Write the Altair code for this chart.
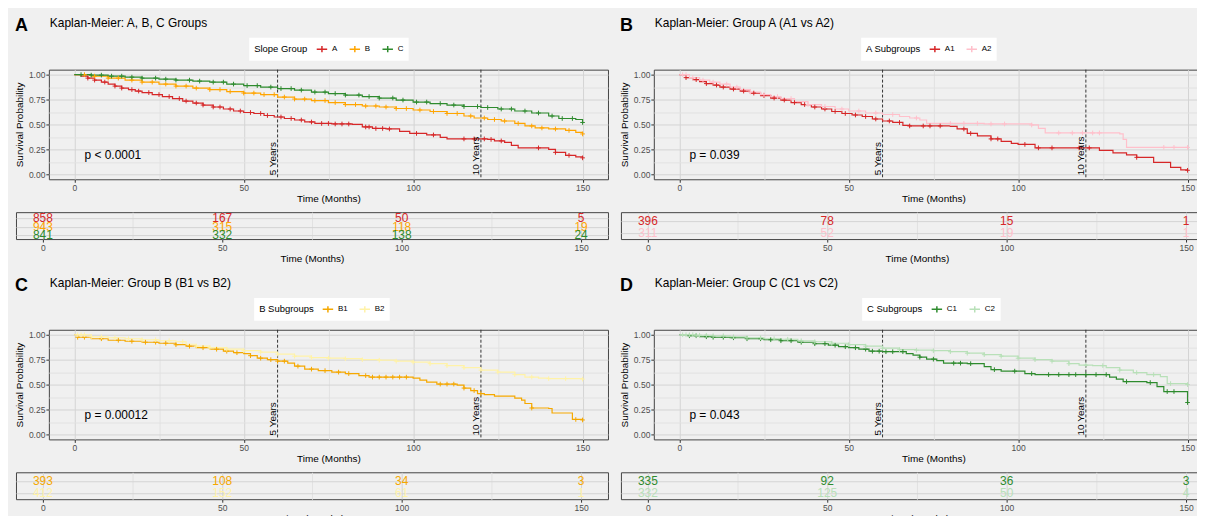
import altair as alt
import numpy as np
import pandas as pd

FONT = "Liberation Sans"
BG = "#f0f0f0"

risk_times = [0, 50, 100, 150]
marker_times = [60, 120]
marker_labels = ["5 Years", "10 Years"]

# ---------------- Panel A : A, B, C ----------------
pA_groups = ["A", "B", "C"]
pA_colors = ["#d62728", "#ffa500", "#2e8b2e"]
pA_A_t = [0, 2, 4, 6, 8, 10, 12, 14, 16, 18, 20, 23, 26, 29, 32, 35, 38, 41, 44, 47, 50, 53, 56, 59, 62, 65, 68, 71, 76, 82, 85, 88, 92, 96, 99, 104, 108, 110, 122, 124, 127, 129, 131, 140, 142, 145, 148, 150]
pA_A_s = [1.0, 0.985, 0.965, 0.945, 0.925, 0.905, 0.885, 0.865, 0.85, 0.835, 0.82, 0.80, 0.78, 0.76, 0.735, 0.715, 0.695, 0.675, 0.655, 0.635, 0.62, 0.61, 0.59, 0.575, 0.56, 0.545, 0.525, 0.51, 0.505, 0.50, 0.475, 0.46, 0.455, 0.43, 0.41, 0.395, 0.37, 0.355, 0.35, 0.335, 0.32, 0.29, 0.265, 0.25, 0.22, 0.19, 0.175, 0.165]
pA_A_c = [4, 6, 9, 12, 14, 17, 19, 22, 25, 28, 31, 33, 36, 38, 41, 43, 46, 49, 52, 55, 57, 61, 64, 67, 70, 73, 75, 77, 79, 81, 86, 87, 89, 91, 93, 101, 106, 115, 118, 121, 123, 126, 137, 142, 146, 150]
pA_B_t = [0, 5, 10, 15, 20, 25, 30, 35, 40, 45, 50, 55, 60, 65, 70, 75, 80, 85, 90, 95, 100, 105, 110, 115, 118, 122, 126, 130, 133, 136, 140, 145, 148, 150]
pA_B_s = [1.0, 0.985, 0.965, 0.945, 0.925, 0.905, 0.885, 0.865, 0.85, 0.83, 0.815, 0.80, 0.775, 0.755, 0.74, 0.72, 0.70, 0.685, 0.675, 0.66, 0.645, 0.63, 0.61, 0.585, 0.565, 0.55, 0.535, 0.51, 0.485, 0.465, 0.455, 0.44, 0.42, 0.405]
pA_B_c = [3, 6, 10, 13, 17, 20, 23, 27, 30, 33, 36, 40, 43, 46, 50, 53, 56, 59, 62, 65, 68, 71, 74, 77, 80, 83, 86, 89, 92, 95, 98, 102, 106, 110, 113, 117, 121, 124, 127, 131, 135, 138, 142, 146, 150]
pA_C_t = [0, 5, 10, 15, 20, 25, 30, 35, 40, 45, 50, 55, 60, 65, 70, 75, 80, 85, 90, 95, 100, 105, 110, 115, 120, 125, 130, 135, 140, 143, 148, 150]
pA_C_s = [1.0, 0.995, 0.985, 0.975, 0.965, 0.955, 0.945, 0.935, 0.925, 0.905, 0.89, 0.875, 0.86, 0.845, 0.825, 0.81, 0.795, 0.78, 0.765, 0.745, 0.725, 0.71, 0.695, 0.68, 0.67, 0.655, 0.635, 0.615, 0.585, 0.56, 0.55, 0.52]
pA_C_c = [2, 5, 8, 11, 14, 17, 20, 24, 27, 30, 34, 37, 41, 44, 47, 51, 54, 58, 61, 64, 67, 71, 74, 77, 80, 84, 87, 90, 94, 97, 101, 104, 108, 112, 115, 119, 122, 126, 129, 133, 137, 141, 144, 147, 150]
pA_risk = [[858, 167, 50, 5], [943, 315, 118, 19], [841, 332, 138, 24]]

# ---------------- Panel B : A1 vs A2 ----------------
pB_groups = ["A1", "A2"]
pB_colors = ["#d62728", "#ffc0cb"]
pB_1_t = [0, 2, 4, 6, 8, 10, 12, 15, 18, 21, 24, 27, 30, 33, 36, 39, 42, 45, 48, 51, 54, 57, 60, 63, 66, 68, 80, 82, 85, 88, 92, 95, 98, 100, 105, 122, 124, 128, 132, 135, 140, 145, 148, 150]
pB_1_s = [1.0, 0.97, 0.95, 0.93, 0.91, 0.895, 0.875, 0.855, 0.835, 0.815, 0.79, 0.765, 0.745, 0.72, 0.70, 0.675, 0.655, 0.63, 0.61, 0.595, 0.58, 0.555, 0.535, 0.52, 0.49, 0.485, 0.48, 0.455, 0.41, 0.385, 0.355, 0.33, 0.31, 0.30, 0.265, 0.265, 0.24, 0.215, 0.195, 0.17, 0.12, 0.07, 0.045, 0.04]
pB_1_c = [2, 5, 8, 11, 13, 16, 19, 22, 25, 28, 31, 34, 37, 40, 43, 46, 49, 52, 55, 58, 62, 65, 68, 72, 74, 77, 84, 86, 92, 94, 102, 106, 110, 118, 121, 135, 150]
pB_2_t = [0, 3, 6, 9, 12, 15, 18, 21, 24, 27, 30, 34, 38, 42, 46, 50, 55, 60, 65, 68, 71, 73, 80, 90, 104, 106, 108, 130, 131, 132, 150]
pB_2_s = [1.0, 0.97, 0.945, 0.925, 0.905, 0.875, 0.85, 0.825, 0.80, 0.78, 0.76, 0.73, 0.70, 0.68, 0.655, 0.635, 0.615, 0.60, 0.58, 0.565, 0.545, 0.51, 0.51, 0.505, 0.495, 0.46, 0.415, 0.405, 0.35, 0.27, 0.27]
pB_2_c = [1, 2, 4, 7, 10, 14, 17, 21, 25, 29, 33, 38, 43, 48, 53, 58, 63, 70, 80, 84, 88, 92, 96, 104, 112, 116, 119, 122, 124, 143, 146, 150]
pB_risk = [[396, 78, 15, 1], [311, 52, 19, 1]]

# ---------------- Panel C : B1 vs B2 ----------------
pC_groups = ["B1", "B2"]
pC_colors = ["#f5a800", "#fff2a8"]
pC_1_t = [0, 1, 5, 10, 15, 20, 25, 30, 33, 36, 40, 44, 47, 50, 52, 54, 57, 60, 63, 65, 68, 72, 76, 80, 84, 87, 100, 102, 104, 107, 113, 115, 117, 119, 121, 124, 130, 132, 133, 135, 140, 141, 147, 150]
pC_1_s = [1.0, 0.975, 0.96, 0.945, 0.935, 0.925, 0.915, 0.90, 0.885, 0.87, 0.855, 0.835, 0.82, 0.81, 0.79, 0.765, 0.75, 0.735, 0.715, 0.685, 0.655, 0.64, 0.625, 0.61, 0.59, 0.575, 0.565, 0.545, 0.525, 0.505, 0.495, 0.465, 0.44, 0.41, 0.40, 0.385, 0.365, 0.345, 0.31, 0.265, 0.26, 0.215, 0.15, 0.145]
pC_1_c = [1, 3, 8, 13, 17, 21, 24, 27, 30, 34, 38, 42, 45, 48, 52, 55, 58, 60, 62, 66, 70, 74, 78, 81, 86, 88, 90, 92, 94, 96, 98, 108, 110, 112, 115, 118, 120, 135, 148, 150]
pC_2_t = [0, 5, 10, 15, 20, 25, 30, 33, 36, 40, 45, 50, 55, 60, 65, 70, 75, 80, 85, 90, 95, 100, 105, 110, 115, 120, 125, 130, 133, 137, 140, 150]
pC_2_s = [1.0, 0.98, 0.97, 0.96, 0.95, 0.94, 0.93, 0.905, 0.885, 0.87, 0.855, 0.84, 0.825, 0.805, 0.785, 0.77, 0.765, 0.76, 0.75, 0.745, 0.735, 0.725, 0.71, 0.69, 0.67, 0.645, 0.625, 0.60, 0.575, 0.565, 0.56, 0.555]
pC_2_c = [1, 2, 3, 5, 8, 12, 16, 20, 24, 28, 32, 36, 40, 45, 50, 55, 60, 65, 70, 75, 80, 85, 90, 95, 100, 105, 110, 115, 120, 125, 130, 135, 140, 145, 150]
pC_risk = [[393, 108, 34, 3], [412, 152, 61, 1]]

# ---------------- Panel D : C1 vs C2 ----------------
pD_groups = ["C1", "C2"]
pD_colors = ["#2e8b2e", "#b8e0b8"]
pD_1_t = [0, 3, 6, 10, 15, 20, 25, 30, 35, 40, 44, 47, 50, 53, 56, 60, 65, 67, 69, 71, 73, 76, 78, 85, 90, 92, 95, 100, 102, 105, 125, 127, 129, 131, 138, 141, 143, 149, 150]
pD_1_s = [1.0, 0.99, 0.98, 0.975, 0.97, 0.96, 0.95, 0.94, 0.925, 0.91, 0.895, 0.88, 0.87, 0.855, 0.835, 0.83, 0.83, 0.81, 0.795, 0.775, 0.755, 0.74, 0.715, 0.71, 0.68, 0.65, 0.635, 0.635, 0.61, 0.60, 0.60, 0.575, 0.555, 0.53, 0.52, 0.48, 0.43, 0.43, 0.32]
pD_1_c = [3, 5, 8, 10, 13, 16, 20, 24, 27, 30, 33, 36, 40, 43, 46, 49, 52, 55, 57, 59, 61, 63, 66, 71, 75, 81, 83, 86, 93, 99, 104, 109, 112, 115, 117, 120, 123, 126, 132, 139, 144, 146, 150]
pD_2_t = [0, 5, 10, 15, 20, 25, 30, 35, 40, 45, 50, 55, 60, 65, 70, 75, 80, 85, 90, 95, 100, 105, 110, 115, 118, 122, 126, 130, 134, 138, 142, 144, 150]
pD_2_s = [1.0, 0.995, 0.99, 0.98, 0.97, 0.96, 0.955, 0.94, 0.93, 0.915, 0.90, 0.885, 0.865, 0.85, 0.845, 0.84, 0.83, 0.815, 0.80, 0.785, 0.765, 0.75, 0.735, 0.71, 0.695, 0.69, 0.67, 0.645, 0.62, 0.60, 0.58, 0.51, 0.50]
pD_2_c = [1, 2, 3, 4, 5, 6, 8, 10, 13, 16, 20, 24, 28, 32, 36, 40, 45, 50, 55, 60, 65, 70, 75, 80, 85, 90, 95, 100, 105, 110, 115, 120, 125, 130, 135, 140, 145, 150]
pD_risk = [[335, 92, 36, 3], [332, 125, 50, 4]]


def steps_df(groups, ts, ss):
    rows = []
    for g, t_list, s_list in zip(groups, ts, ss):
        for t, s in zip(t_list, s_list):
            rows.append((g, t, s))
    return pd.DataFrame(rows, columns=["group", "time", "surv"])


def censor_df(groups, ts, ss, cs):
    rows = []
    for g, t_list, s_list, c_list in zip(groups, ts, ss, cs):
        ta = np.array(t_list)
        for c in c_list:
            i = int(np.searchsorted(ta, c, side="right")) - 1
            rows.append((g, c, s_list[i]))
    return pd.DataFrame(rows, columns=["group", "time", "surv"])


def risk_df(groups, risk):
    rows = []
    for r, (g, ns) in enumerate(zip(groups, risk), start=1):
        for t, n in zip(risk_times, ns):
            rows.append((g, t, n, r))
    return pd.DataFrame(rows, columns=["group", "time", "n", "row"])


def x_axis():
    return alt.Axis(
        values=[0, 25, 50, 75, 100, 125, 150],
        labelExpr="datum.value % 50 === 0 ? datum.label : ''",
        gridColor={"condition": {"test": "datum.value % 50 === 0", "value": "#d4d4d4"}, "value": "#e2e2e2"},
        tickOpacity={"condition": {"test": "datum.value % 50 === 0", "value": 1}, "value": 0},
        domain=False, tickSize=3, tickColor="#333333", labelColor="#4d4d4d",
        labelFontSize=8.5, labelPadding=1, title="Time (Months)", titleFontSize=10,
        titleFontWeight="normal", titleColor="black", titlePadding=2, labelOverlap=False,
    )


def y_axis():
    return alt.Axis(
        values=[0, 0.125, 0.25, 0.375, 0.5, 0.625, 0.75, 0.875, 1.0],
        labelExpr="round(datum.value * 8) % 2 === 0 ? format(datum.value, '.2f') : ''",
        gridColor={"condition": {"test": "round(datum.value * 8) % 2 === 0", "value": "#d4d4d4"}, "value": "#e2e2e2"},
        tickOpacity={"condition": {"test": "round(datum.value * 8) % 2 === 0", "value": 1}, "value": 0},
        domain=False, tickSize=3, tickColor="#333333", labelColor="#4d4d4d",
        labelFontSize=8.5, labelPadding=1, title="Survival Probability", titleFontSize=10,
        titleFontWeight="normal", titleColor="black", titlePadding=4, labelOverlap=False,
    )


def panel(letter, title, leg_title, groups, colors, ts, ss, cs, risk, pval, leg_x, row_dom):
    xs = alt.Scale(domain=[-7.5, 157.5], nice=False, zero=False)
    ys = alt.Scale(domain=[-0.05, 1.05], nice=False, zero=False)
    X = alt.X("time:Q", scale=xs, axis=x_axis())
    Y = alt.Y("surv:Q", scale=ys, axis=y_axis())
    cscale = alt.Scale(domain=groups, range=colors)
    leg = alt.Legend(
        title=leg_title, orient="none", legendX=leg_x, legendY=-32,
        direction="horizontal", titleOrient="left", fillColor="white", padding=5,
        symbolType="M-1,0H1M0,-0.6V0.6", symbolStrokeWidth=1.5, symbolSize=110,
        symbolFillColor="transparent", labelFontSize=8, titleFontSize=9.5,
        titleFontWeight="normal", titleColor="black", labelColor="black",
        columnPadding=8, titlePadding=8, labelOffset=4,
    )

    mk = pd.DataFrame({"time": marker_times, "surv": [-0.01, -0.01], "lab": marker_labels})
    rules = alt.Chart(mk).mark_rule(strokeDash=[3, 2], color="#333333", strokeWidth=1).encode(x=X)
    mtext = alt.Chart(mk).mark_text(angle=270, align="left", baseline="bottom", fontSize=10,
                                    color="black", font=FONT).encode(x=X, y=Y, text="lab:N")
    lines = alt.Chart(steps_df(groups, ts, ss)).mark_line(
        interpolate="step-after", strokeWidth=1.2).encode(
        x=X, y=Y, color=alt.Color("group:N", scale=cscale, legend=leg))
    cens = alt.Chart(censor_df(groups, ts, ss, cs)).mark_point(
        shape="M-1,0H1M0,-1V1", filled=False, size=22, strokeWidth=1, opacity=1).encode(
        x=X, y=Y, color=alt.Color("group:N", scale=cscale, legend=None))
    pv = pd.DataFrame({"time": [3], "surv": [0.19], "lab": [pval]})
    ptxt = alt.Chart(pv).mark_text(align="left", baseline="middle", fontSize=12,
                                   color="black", font=FONT).encode(x=X, y=Y, text="lab:N")
    let = alt.Chart(pd.DataFrame({"lab": [letter]})).mark_text(
        align="left", baseline="middle", fontSize=18, fontWeight="bold", color="black",
        font=FONT).encode(x=alt.value(-34), y=alt.value(-44), text="lab:N")
    ttl = alt.Chart(pd.DataFrame({"lab": [title]})).mark_text(
        align="left", baseline="middle", fontSize=12, color="black",
        font=FONT).encode(x=alt.value(1), y=alt.value(-47), text="lab:N")
    plot = alt.layer(rules, lines, cens, mtext, ptxt, let, ttl).properties(width=561, height=110)

    # an empty strip that lets the risk table start under the y-axis title
    spacer = alt.Chart(pd.DataFrame({"v": [0]})).mark_point(opacity=0).encode(
        x=alt.X("v:Q", axis=None), y=alt.Y("v:Q", axis=None)
    ).properties(width=33, height=110, view=alt.ViewBackground(stroke="transparent"))
    top = alt.hconcat(spacer, plot, spacing=0, bounds="flush").resolve_scale(color="independent")

    nrows = len(groups)
    tbl = alt.Chart(risk_df(groups, risk)).mark_text(fontSize=12, baseline="middle", font=FONT).encode(
        x=alt.X("time:Q", scale=alt.Scale(domain=[-7.5, 157.5], nice=False, zero=False), axis=x_axis()),
        y=alt.Y("row:Q", scale=alt.Scale(domain=row_dom, reverse=True, nice=False, zero=False),
                axis=alt.Axis(values=list(range(1, nrows + 1)), labels=False, ticks=False,
                              domain=False, title=None, gridColor="#d4d4d4")),
        color=alt.Color("group:N", scale=cscale, legend=None),
        text="n:Q",
    ).properties(width=594, height=27)
    return alt.vconcat(top, tbl, spacing=7).resolve_scale(color="independent")


pA = panel("A", "Kaplan-Meier: A, B, C Groups", "Slope Group", pA_groups, pA_colors,
           [pA_A_t, pA_B_t, pA_C_t], [pA_A_s, pA_B_s, pA_C_s], [pA_A_c, pA_B_c, pA_C_c],
           pA_risk, "p < 0.0001", 201, [0.32, 3.41])
pB = panel("B", "Kaplan-Meier: Group A (A1 vs A2)", "A Subgroups", pB_groups, pB_colors,
           [pB_1_t, pB_2_t], [pB_1_s, pB_2_s], [pB_1_c, pB_2_c],
           pB_risk, "p = 0.039", 208, [0.27, 2.52])
pC = panel("C", "Kaplan-Meier: Group B (B1 vs B2)", "B Subgroups", pC_groups, pC_colors,
           [pC_1_t, pC_2_t], [pC_1_s, pC_2_s], [pC_1_c, pC_2_c],
           pC_risk, "p = 0.00012", 206, [0.27, 2.52])
pD = panel("D", "Kaplan-Meier: Group C (C1 vs C2)", "C Subgroups", pD_groups, pD_colors,
           [pD_1_t, pD_2_t], [pD_1_s, pD_2_s], [pD_1_c, pD_2_c],
           pD_risk, "p = 0.043", 209, [0.27, 2.52])

row1 = alt.hconcat(pA, pB, spacing=9).resolve_scale(color="independent")
row2 = alt.hconcat(pC, pD, spacing=9).resolve_scale(color="independent")

chart = alt.vconcat(row1, row2, spacing=12).resolve_scale(color="independent").properties(
    background=BG, padding={"left": 5, "top": 7, "right": -17, "bottom": -9}
).configure_view(stroke="#444444", strokeWidth=1).configure_axis(
    labelFont=FONT, titleFont=FONT
).configure_legend(labelFont=FONT, titleFont=FONT).configure_text(font=FONT)

chart.save("out.html", embed_options={"renderer": "svg", "actions": False})
